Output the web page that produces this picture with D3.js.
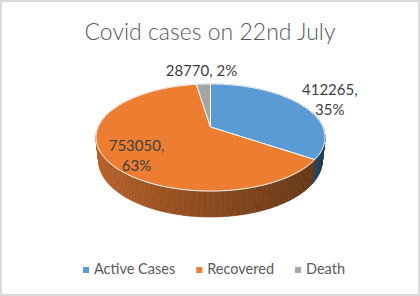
<!DOCTYPE html>
<html>
<head>
<meta charset="utf-8">
<script src="https://cdn.jsdelivr.net/npm/d3@7"></script>
<style>
  body { margin: 0; background: #fff; }
  svg { display: block; font-family: Lato, "Open Sans", sans-serif; }
</style>
</head>
<body>
<svg id="chart"></svg>
<script>
var categories = ['Active Cases', 'Recovered', 'Death'];
var values = [412265, 753050, 28770];
var colors = ['#5b9bd5', '#ed7d31', '#a5a5a5'];

var width = 420, height = 296;

// 3d view settings (tilt, perspective distance, scale, centre, thickness)
var tilt = 27.3 * Math.PI / 180,
    dist = 4.53,
    scale = 112.3,
    cx = 210.5,
    cy = 127,
    thick = 0.23;

// label radius, extra shift and wrapping for each slice
var labelR = [1.35, 0.72, 1.35];
var labelDy = [0, 6, 0];
var labelWrap = [true, true, false];

function proj(r, a, y) {
  var X = r * Math.sin(a), Z = r * Math.cos(a);
  var yp = y * Math.cos(tilt) + Z * Math.sin(tilt);
  var zp = Z * Math.cos(tilt) - y * Math.sin(tilt);
  var f = dist / (dist + zp);
  return [cx + scale * X * f, cy - scale * yp * f];
}

var svg = d3.select('#chart')
  .attr('width', width)
  .attr('height', height);

svg.append('rect')
  .attr('x', 1).attr('y', 1)
  .attr('width', width - 2).attr('height', height - 2)
  .attr('fill', '#fff')
  .attr('stroke', '#d9d9d9')
  .attr('stroke-width', 2);

svg.append('text')
  .attr('x', 210)
  .attr('y', 40)
  .attr('text-anchor', 'middle')
  .attr('font-size', 23)
  .attr('font-weight', 300)
  .attr('fill', '#595959')
  .text('Covid cases on 22nd July');

var data = categories.map(function(c, i) {
  return { name: c, value: values[i], color: colors[i] };
});
var total = d3.sum(values);

var pie = d3.pie().sort(null).value(d => d.value);
var arcs = pie(data);

var line = d3.line();
var step = Math.PI / 180;

function shade(w) {
  var k = 0.58 - 0.2 * Math.sin((w.a0 + w.a1) / 2);
  var c = d3.rgb(w.color);
  return d3.rgb(c.r * k, c.g * k, c.b * k);
}

// side walls, drawn far to near
var walls = [];
arcs.forEach(function(a) {
  for (var t = a.startAngle; t < a.endAngle - 1e-9; t += step) {
    var t1 = Math.min(t + step, a.endAngle);
    walls.push({ a0: t, a1: t1, color: a.data.color });
  }
});
walls.sort((p, q) => Math.cos((q.a0 + q.a1) / 2) - Math.cos((p.a0 + p.a1) / 2) < 0 ? -1 : 1);

svg.append('g').selectAll('path')
  .data(walls)
  .enter()
  .append('path')
    .attr('d', function(w) {
      return line([proj(1, w.a0, 0), proj(1, w.a1, 0), proj(1, w.a1, -thick), proj(1, w.a0, -thick)]) + 'Z';
    })
    .attr('fill', shade)
    .attr('stroke', shade)
    .attr('stroke-width', 0.6);

// top faces
svg.append('g').selectAll('path')
  .data(arcs)
  .enter()
  .append('path')
    .attr('d', function(a) {
      var pts = [proj(0, 0, 0)];
      var n = Math.max(2, Math.ceil((a.endAngle - a.startAngle) / step));
      for (var i = 0; i <= n; i++) {
        pts.push(proj(1, a.startAngle + (a.endAngle - a.startAngle) * i / n, 0));
      }
      return line(pts) + 'Z';
    })
    .attr('fill', a => a.data.color)
    .attr('stroke', '#fff')
    .attr('stroke-width', 1)
    .attr('stroke-linejoin', 'round');

// data labels
var pct = d3.format('.0%');
var labels = svg.append('g').selectAll('text')
  .data(arcs)
  .enter()
  .append('text')
    .attr('text-anchor', 'middle')
    .attr('font-size', 15)
    .attr('fill', '#404040')
    .attr('transform', function(a, i) {
      var p = proj(labelR[i], (a.startAngle + a.endAngle) / 2, 0);
      return 'translate(' + p[0] + ',' + (p[1] + labelDy[i]) + ')';
    });

labels.each(function(a, i) {
  var t = d3.select(this);
  var v = a.data.value + ',', p = pct(a.data.value / total);
  if (labelWrap[i]) {
    t.append('tspan').attr('x', 0).attr('y', -3).text(v);
    t.append('tspan').attr('x', 0).attr('y', 17).text(p);
  } else {
    t.append('tspan').attr('x', 0).attr('y', 4).text(v + ' ' + p);
  }
});

// legend
var legend = svg.append('g');
var items = legend.selectAll('g')
  .data(data)
  .enter()
  .append('g');
items.append('rect')
  .attr('y', -7)
  .attr('width', 6)
  .attr('height', 6)
  .attr('fill', d => d.color);
items.append('text')
  .attr('x', 11)
  .attr('font-size', 14.5)
  .attr('fill', '#595959')
  .text(d => d.name);

var xoff = 0;
items.each(function() {
  d3.select(this).attr('transform', 'translate(' + xoff + ',0)');
  xoff += this.getBBox().width + 21;
});
legend.attr('transform', 'translate(' + (214 - (xoff - 21) / 2) + ',274)');
</script>
</body>
</html>
